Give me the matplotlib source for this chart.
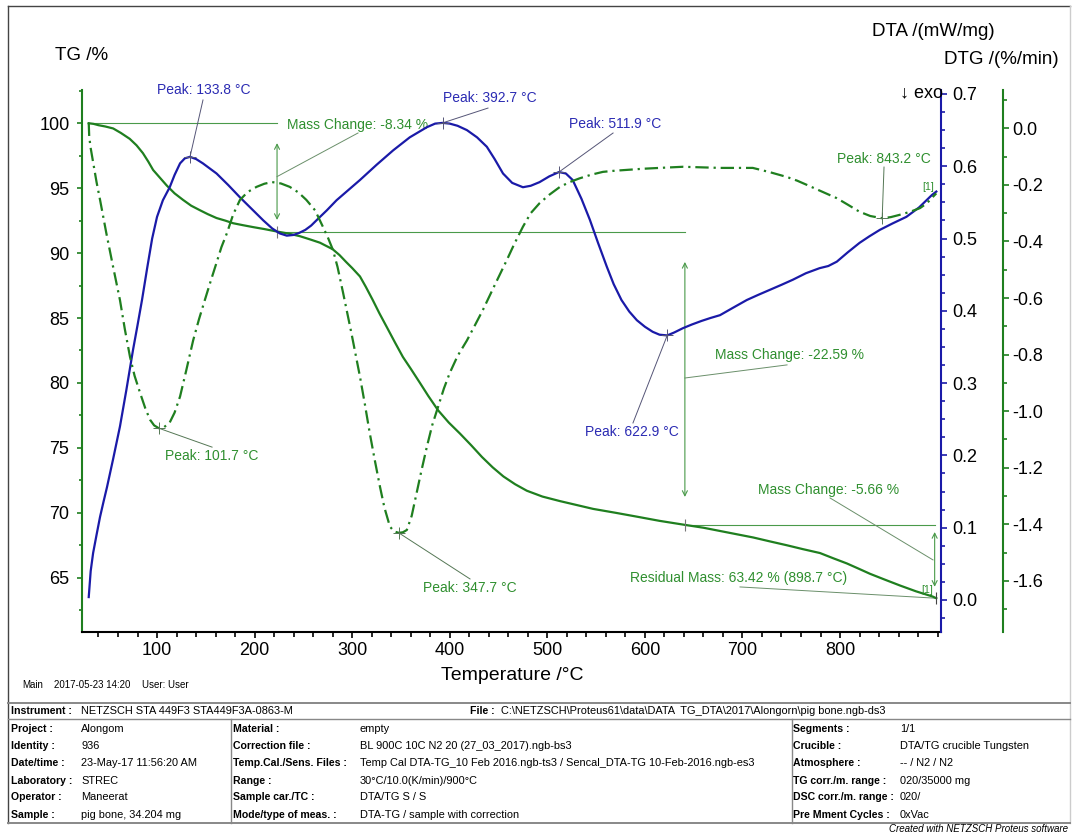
import matplotlib
matplotlib.use("Agg")
import matplotlib.pyplot as plt
from matplotlib.lines import Line2D
from matplotlib.ticker import MultipleLocator, FormatStrFormatter

plt.rcParams['font.family'] = ['Liberation Sans', 'DejaVu Sans']

# ---------------- measured curves ----------------
tg_temp = [30, 35, 40, 47, 55, 63, 72, 79, 85.5, 91, 96, 103, 110, 118, 126.6,
           135, 144, 152, 161, 170, 178, 188, 198.6, 210, 223, 235, 246.5, 257,
           267, 280, 287, 294, 300, 308, 314, 321, 328, 335.5, 344, 352, 360,
           369.5, 378, 388, 399, 410.5, 422, 433, 444, 455, 467, 479, 495, 513,
           530, 547, 570, 592, 615, 641, 660, 677, 694, 711, 728, 745.5, 762,
           779.5, 793, 807, 819, 830.8, 846, 861.5, 878, 895, 898.7]
tg_mass = [100.0, 99.95, 99.85, 99.75, 99.6, 99.25, 98.8, 98.3, 97.7, 97.05,
           96.4, 95.8, 95.2, 94.6, 94.1, 93.65, 93.3, 93.0, 92.7, 92.5, 92.3,
           92.15, 92.0, 91.85, 91.66, 91.5, 91.3, 91.05, 90.8, 90.3, 89.85,
           89.3, 88.85, 88.2, 87.4, 86.4, 85.35, 84.3, 83.1, 82.0, 81.1, 80.0,
           79.0, 77.9, 76.95, 76.1, 75.2, 74.3, 73.5, 72.8, 72.2, 71.7, 71.25,
           70.9, 70.6, 70.3, 70.0, 69.7, 69.38, 69.07, 68.85, 68.6, 68.35,
           68.1, 67.8, 67.5, 67.2, 66.9, 66.5, 66.1, 65.7, 65.3, 64.85, 64.4,
           63.95, 63.55, 63.42]

dta_temp = [30, 32, 34.5, 38, 41.6, 45, 48.7, 55, 62, 68.5, 75.4, 80, 84.6, 90,
            95, 100, 106, 113, 118, 123.6, 128.5, 133.8, 140, 147, 154, 161,
            173, 185, 197, 209, 218, 226, 233, 240, 246, 252, 258, 264, 274,
            284, 296, 308, 325, 342, 359, 376.5, 385, 392.7, 400, 408, 417.6,
            428, 438, 446, 454.6, 464, 475, 483, 492, 502, 511.9, 519, 526,
            535, 543.6, 552, 561, 568, 576, 584, 591.8, 600, 608, 615, 622.9,
            630, 639, 648, 658, 667, 677, 690, 704.5, 716, 728, 740, 751.6,
            765, 779, 788, 796.7, 808, 820, 830, 840.8, 854, 868, 881, 894,
            898.7]
dta_signal = [0.004, 0.040, 0.065, 0.090, 0.115, 0.135, 0.156, 0.195, 0.240,
              0.290, 0.346, 0.380, 0.415, 0.460, 0.500, 0.530, 0.553, 0.571,
              0.588, 0.604, 0.611, 0.613, 0.610, 0.604, 0.597, 0.590, 0.574,
              0.557, 0.541, 0.525, 0.514, 0.507, 0.504, 0.505, 0.508, 0.512,
              0.518, 0.526, 0.539, 0.553, 0.567, 0.581, 0.602, 0.622, 0.640,
              0.654, 0.659, 0.660, 0.659, 0.656, 0.650, 0.640, 0.627, 0.610,
              0.590, 0.577, 0.571, 0.573, 0.578, 0.586, 0.592, 0.590, 0.581,
              0.555, 0.526, 0.494, 0.461, 0.437, 0.415, 0.399, 0.387, 0.378,
              0.371, 0.367, 0.366, 0.370, 0.376, 0.381, 0.386, 0.390, 0.394,
              0.404, 0.415, 0.422, 0.429, 0.436, 0.443, 0.452, 0.459, 0.462,
              0.468, 0.481, 0.494, 0.503, 0.512, 0.521, 0.530, 0.543, 0.560,
              0.565]

dtg_temp = [30, 30.5, 32, 35, 38, 41.6, 48, 55, 62, 67, 72.3, 77, 82.6, 88,
            92.8, 97, 101.7, 107, 113, 118, 123.6, 130, 137, 143, 149, 155, 161,
            166, 171.7, 178, 185, 193, 202, 210, 217.8, 227, 236, 245, 253, 262,
            270, 275, 280.3, 285, 290.6, 299, 308, 313, 318, 323, 328.5, 333,
            338.7, 343, 347.7, 352, 356, 361, 366, 371, 376.6, 382, 388, 394,
            400, 408, 417.6, 426, 434, 446, 458.6, 466, 475, 483, 492, 502, 513,
            523, 533, 545, 557, 569, 581.5, 598, 615, 627, 639, 658, 677, 694,
            710.6, 728, 745.5, 756, 766, 781, 796.7, 808, 820, 831, 843.2, 852,
            861, 872, 882, 889, 895, 898.7]
dtg_rate = [0.02, -0.03, -0.07, -0.13, -0.19, -0.253, -0.37, -0.49, -0.607,
            -0.71, -0.808, -0.875, -0.935, -0.99, -1.03, -1.05, -1.06, -1.057,
            -1.04, -1.005, -0.948, -0.855, -0.75, -0.675, -0.607, -0.54, -0.475,
            -0.42, -0.37, -0.305, -0.253, -0.225, -0.207, -0.196, -0.19, -0.195,
            -0.207, -0.227, -0.253, -0.29, -0.348, -0.385, -0.43, -0.49, -0.58,
            -0.72, -0.878, -0.975, -1.077, -1.17, -1.267, -1.34, -1.408, -1.425,
            -1.43, -1.428, -1.42, -1.37, -1.29, -1.21, -1.125, -1.05, -0.985,
            -0.92, -0.865, -0.805, -0.75, -0.695, -0.642, -0.555, -0.465, -0.41,
            -0.348, -0.3, -0.265, -0.235, -0.207, -0.19, -0.177, -0.164, -0.154,
            -0.15, -0.147, -0.143, -0.14, -0.138, -0.136, -0.138, -0.14, -0.14,
            -0.14, -0.155, -0.172, -0.185, -0.2, -0.223, -0.247, -0.27, -0.295,
            -0.31, -0.318, -0.314, -0.306, -0.295, -0.282, -0.265, -0.243,
            -0.23]

# ---------------- evaluated results ----------------
dta_peak_temp = [133.8, 392.7, 511.9, 622.9]
dta_peak_val = [0.613, 0.660, 0.592, 0.366]
dtg_peak_temp = [101.7, 347.7, 843.2]
dtg_peak_val = [-1.06, -1.43, -0.318]
step_temp = [30, 223, 641, 897]
step_level = [100.0, 91.66, 69.07, 63.42]
step_change = [-8.34, -22.59, -5.66]
residual_mass = 63.42
residual_temp = 898.7

x_ticks = [100, 200, 300, 400, 500, 600, 700, 800]
tg_ticks = [65, 70, 75, 80, 85, 90, 95, 100]
dta_ticks = [0.0, 0.1, 0.2, 0.3, 0.4, 0.5, 0.6, 0.7]
dtg_ticks = [-1.6, -1.4, -1.2, -1.0, -0.8, -0.6, -0.4, -0.2, 0.0]

GREEN = '#1f7f1f'
GREEN_TXT = '#2f8f2f'
GREEN_THIN = '#4a9a4a'
BLUE = '#1a1aa8'
BLUE_TXT = '#2b2bb3'

W, H = 1075, 834
fig = plt.figure(figsize=(W / 100, H / 100), dpi=100)
fig.patch.set_facecolor('white')


def fx(x):
    return x / W


def fy(y):
    return 1 - y / H


ax = fig.add_axes([fx(82), fy(632), (941 - 82) / W, (632 - 90) / H])
ax.set_xlim(23.1, 903.5)
ax.set_ylim(60.82, 102.56)
ax_dta = ax.twinx()
ax_dta.set_ylim(-0.0443, 0.7055)
ax_dtg = ax.twinx()
ax_dtg.set_ylim(-1.7805, 0.1354)
ax_dtg.spines['right'].set_position(('axes', (1003 - 82) / (941 - 82)))

for a in (ax, ax_dta, ax_dtg):
    a.set_facecolor('none')
    for s in a.spines.values():
        s.set_visible(False)

ax.spines['left'].set_visible(True)
ax.spines['left'].set_color(GREEN)
ax.spines['left'].set_linewidth(1.5)
ax.spines['bottom'].set_visible(True)
ax.spines['bottom'].set_color('black')
ax.spines['bottom'].set_linewidth(1.5)
ax_dta.spines['right'].set_visible(True)
ax_dta.spines['right'].set_color(BLUE)
ax_dta.spines['right'].set_linewidth(1.5)
ax_dtg.spines['right'].set_visible(True)
ax_dtg.spines['right'].set_color(GREEN)
ax_dtg.spines['right'].set_linewidth(1.5)

# ticks
ax.set_xticks(x_ticks)
ax.xaxis.set_minor_locator(MultipleLocator(20))
ax.tick_params(axis='x', which='major', length=4, width=1.2, color='black',
               labelsize=13, pad=3)
ax.tick_params(axis='x', which='minor', length=3.5, width=1.2, color='black')

ax.set_yticks(tg_ticks)
ax.yaxis.set_minor_locator(MultipleLocator(2.5))
ax.tick_params(axis='y', which='major', length=3.5, width=1.2, color=GREEN,
               labelsize=13, pad=5.5)
ax.tick_params(axis='y', which='minor', length=2.5, width=1.2, color=GREEN)

ax_dta.set_yticks(dta_ticks)
ax_dta.yaxis.set_minor_locator(MultipleLocator(0.025))
ax_dta.yaxis.set_major_formatter(FormatStrFormatter('%.1f'))
ax_dta.tick_params(axis='y', which='major', length=4, width=1.2, color=BLUE,
                   labelsize=13, pad=4)
ax_dta.tick_params(axis='y', which='minor', length=3, width=1.2, color=BLUE)

ax_dtg.set_yticks(dtg_ticks)
ax_dtg.yaxis.set_minor_locator(MultipleLocator(0.1))
ax_dtg.yaxis.set_major_formatter(FormatStrFormatter('%.1f'))
ax_dtg.tick_params(axis='y', which='major', length=4, width=1.2, color=GREEN,
                   labelsize=13, pad=3)
ax_dtg.tick_params(axis='y', which='minor', length=3, width=1.2, color=GREEN)

# curves
ax.plot(tg_temp, tg_mass, color=GREEN, lw=1.6, solid_joinstyle='round', zorder=5)
ax_dta.plot(dta_temp, dta_signal, color=BLUE, lw=1.6, solid_joinstyle='round',
            zorder=5)
ax_dtg.plot(dtg_temp, dtg_rate, color=GREEN, lw=1.6,
            linestyle=(0, (6, 2.2, 1, 2.2)), zorder=5)

# ---------------- mass change evaluation ----------------
thin = dict(color=GREEN_THIN, lw=0.8)
for i in range(3):
    ax.plot([step_temp[i] if i else 29.5, step_temp[i + 1]],
            [step_level[i], step_level[i]], **thin)
# double arrows between levels
arrow_spans = [(223, 98.47, 92.55), (641, 89.32, 71.22), (897, 68.52, 64.3)]
for xa, ya, yb in arrow_spans:
    ax.annotate('', xy=(xa, ya), xytext=(xa, yb),
                arrowprops=dict(arrowstyle='<->', color=GREEN_THIN, lw=0.8,
                                shrinkA=0, shrinkB=0, mutation_scale=9))
# step markers on the TG curve
ax.plot(step_temp[1:3], step_level[1:3], linestyle='none', marker='|',
        ms=9, mew=0.8, color='#777777', zorder=6)
ax.plot([residual_temp], [residual_mass], linestyle='none', marker='|',
        ms=9, mew=0.8, color='#444444', zorder=6)

mass_labels = [
    # text left pos, leader start, leader end
    ((233.2, 99.86), (223, 95.89), (306, 99.25)),
    ((671.9, 82.16), (641, 80.38), (745.7, 81.39)),
    ((716.0, 71.76), (789.8, 71.14), (895.3, 66.37)),
]
for (txt_xy, l0, l1), ch in zip(mass_labels, step_change):
    ax.text(txt_xy[0], txt_xy[1], f'Mass Change: {ch:.2f} %', color=GREEN_TXT,
            fontsize=10, ha='left', va='center', zorder=7)
    ax.plot([l0[0], l1[0]], [l0[1], l1[1]], color='#6a8f6a', lw=0.7, zorder=6)

ax.text(584.8, 64.98, f'Residual Mass: {residual_mass:.2f} % ({residual_temp:.1f} °C)',
        color=GREEN_TXT, fontsize=10, ha='left', va='center', zorder=7)
ax.plot([697.5, residual_temp], [64.29, residual_mass], color='#6a8f6a', lw=0.7)

# ---------------- peak labels ----------------
dta_label_pos = [((148.2, 0.7055), (147.1, 0.6917)),
                 ((441.3, 0.6943), (439.2, 0.6805)),
                 ((569.4, 0.6584), (567.4, 0.6460)),
                 ((586.8, 0.2324), (587.8, 0.2449))]
for t, v, (tp, lp) in zip(dta_peak_temp, dta_peak_val, dta_label_pos):
    ax_dta.plot([t, lp[0]], [v, lp[1]], color='#555577', lw=0.7, zorder=6)
    ax_dta.plot([t], [v], marker='+', ms=9, mew=0.7, color='#555577', zorder=6)
    ax_dta.text(tp[0], tp[1], f'Peak: {t:.1f} °C', color=BLUE_TXT, fontsize=10,
                ha='center', va='center', zorder=7, clip_on=False)

dtg_label_pos = [((156.4, -1.158), (156.4, -1.127)),
                 ((420.8, -1.625), (420.8, -1.593)),
                 ((845.1, -0.1085), (845.1, -0.137))]
for t, v, (tp, lp) in zip(dtg_peak_temp, dtg_peak_val, dtg_label_pos):
    ax_dtg.plot([t, lp[0]], [v, lp[1]], color='#557755', lw=0.7, zorder=6)
    ax_dtg.plot([t], [v], marker='+', ms=9, mew=0.7, color='#557755', zorder=6)
    ax_dtg.text(tp[0], tp[1], f'Peak: {t:.1f} °C', color=GREEN_TXT, fontsize=10,
                ha='center', va='center', zorder=7)

# segment markers
fig.text(fx(922), fy(187), '[1]', color=GREEN_TXT, fontsize=7.5, ha='left', va='center')
fig.text(fx(921), fy(590), '[1]', color=GREEN_TXT, fontsize=7.5, ha='left', va='center')

# ---------------- axis titles ----------------
fig.text(fx(55), fy(55), 'TG /%', fontsize=13.5, ha='left', va='center')
fig.text(fx(872), fy(32), 'DTA /(mW/mg)', fontsize=13.5, ha='left', va='center')
fig.text(fx(944), fy(60), 'DTG /(%/min)', fontsize=13.5, ha='left', va='center')
fig.text(fx(943), fy(93), '↓ exo', fontsize=13, ha='right', va='center')
fig.text(fx(512), fy(675), 'Temperature /°C', fontsize=14, ha='center', va='center')

fig.text(fx(22), fy(685), 'Main', fontsize=7, ha='left', va='center')
fig.text(fx(54), fy(685), '2017-05-23 14:20', fontsize=7, ha='left', va='center')
fig.text(fx(142), fy(685), 'User: User', fontsize=7, ha='left', va='center')

# ---------------- frame and info table ----------------
def hline(y, x0, x1, c='#888888', lw=1.0):
    fig.add_artist(Line2D([fx(x0), fx(x1)], [fy(y), fy(y)], color=c, lw=lw))


def vline(x, y0, y1, c='#888888', lw=1.0):
    fig.add_artist(Line2D([fx(x), fx(x)], [fy(y0), fy(y1)], color=c, lw=lw))


hline(6, 8, 1070, c='#444444')
vline(8, 6, 823, c='#444444')
vline(1070, 6, 823, c='#cccccc')
hline(703, 8, 1070, lw=1.4)
hline(719, 8, 1070)
hline(823, 8, 1070, lw=1.4)
vline(231, 719, 823)
vline(792, 719, 823)

LS = 7.6   # bold field names
VS = 7.9   # field values
fig.text(fx(11), fy(711), 'Instrument :', fontsize=LS, weight='bold', va='center')
fig.text(fx(81), fy(711), 'NETZSCH STA 449F3 STA449F3A-0863-M', fontsize=VS, va='center')
fig.text(fx(470), fy(711), 'File :', fontsize=LS, weight='bold', va='center')
fig.text(fx(501), fy(711),
         'C:\\NETZSCH\\Proteus61\\data\\DATA  TG_DTA\\2017\\Alongorn\\pig bone.ngb-ds3',
         fontsize=VS, va='center')

col1 = [('Project :', 'Alongom'), ('Identity :', '936'),
        ('Date/time :', '23-May-17 11:56:20 AM'), ('Laboratory :', 'STREC'),
        ('Operator :', 'Maneerat'), ('Sample :', 'pig bone, 34.204 mg')]
col2 = [('Material :', 'empty'),
        ('Correction file :', 'BL 900C 10C N2 20 (27_03_2017).ngb-bs3'),
        ('Temp.Cal./Sens. Files :',
         'Temp Cal DTA-TG_10 Feb 2016.ngb-ts3 / Sencal_DTA-TG 10-Feb-2016.ngb-es3'),
        ('Range :', '30°C/10.0(K/min)/900°C'), ('Sample car./TC :', 'DTA/TG S / S'),
        ('Mode/type of meas. :', 'DTA-TG / sample with correction')]
col3 = [('Segments :', '1/1'), ('Crucible :', 'DTA/TG crucible Tungsten'),
        ('Atmosphere :', '-- / N2 / N2'), ('TG corr./m. range :', '020/35000 mg'),
        ('DSC corr./m. range :', '020/'), ('Pre Mment Cycles :', '0xVac')]
row_y = [729, 746, 763.5, 780.5, 797.5, 814.5]
for col, xl, xv in ((col1, 11, 81), (col2, 233, 360), (col3, 793, 900)):
    for (lab, val), y in zip(col, row_y):
        fig.text(fx(xl), fy(y), lab, fontsize=LS, weight='bold', va='center')
        fig.text(fx(xv), fy(y), val, fontsize=VS, va='center')

fig.text(fx(1068), fy(829), 'Created with NETZSCH Proteus software', fontsize=7,
         style='italic', ha='right', va='center')

fig.savefig('out.png', dpi=100, facecolor='white')
